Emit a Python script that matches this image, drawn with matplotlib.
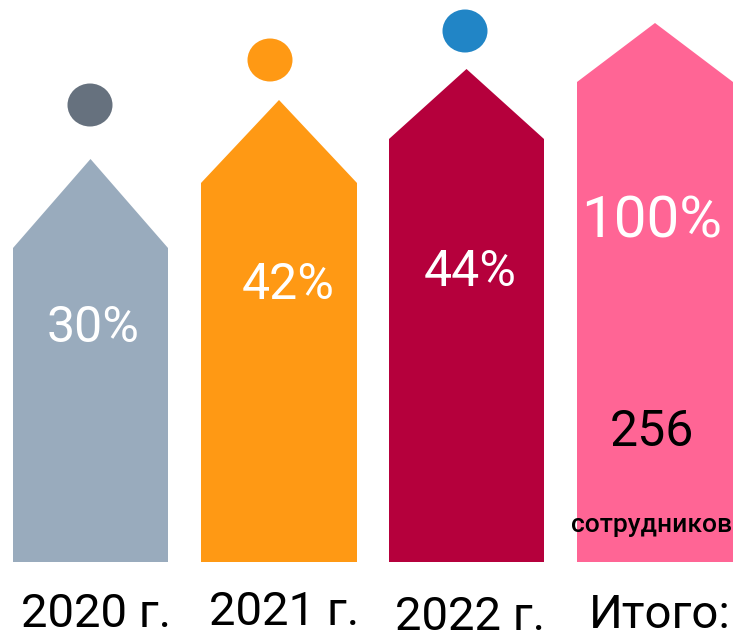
import matplotlib.pyplot as plt
from matplotlib.patches import Polygon, Ellipse

plt.rcParams['font.family'] = ['Roboto', 'DejaVu Sans']

years = ['2020 г.', '2021 г.', '2022 г.', 'Итого:']
percents = [30, 42, 44, 100]
total_staff = 256
colors = ['#99abbd', '#ff9914', '#b5003c', '#ff6595']
dot_colors = ['#66717e', '#ff9914', '#2185c6', None]

# shape geometry in pixels (left, right, shoulder y, apex y)
lefts = [13, 201, 389, 577]
rights = [168, 357, 544, 733]
shoulders = [248, 183, 139, 82]
apexes = [159, 100, 69, 23]
bottom = 562
dots = [(90, 105), (270, 60), (465, 31), None]
pct_pos = [(93, 328), (288, 285), (470, 272), (652, 222)]
pct_size = [36, 36, 36, 42]
year_pos = [(96, 614), (284, 612), (470, 617), (660, 615)]

fig = plt.figure(figsize=(7.43, 6.39), dpi=100)
ax = fig.add_axes([0, 0, 1, 1])
ax.set_xlim(0, 743)
ax.set_ylim(639, 0)
ax.axis('off')

for i in range(4):
    l, r = lefts[i], rights[i]
    cx = (l + r) / 2
    pts = [(l, bottom), (l, shoulders[i]), (cx, apexes[i]),
           (r, shoulders[i]), (r, bottom)]
    ax.add_patch(Polygon(pts, closed=True, color=colors[i], lw=0))
    if dots[i] is not None:
        ax.add_patch(Ellipse(dots[i], 45, 43, color=dot_colors[i], lw=0))
    ax.text(pct_pos[i][0], pct_pos[i][1], f'{percents[i]}%', color='white',
            fontsize=pct_size[i], ha='center', va='center')
    ax.text(year_pos[i][0], year_pos[i][1], years[i], color='black',
            fontsize=34, ha='center', va='center')

ax.text(652, 432, str(total_staff), color='black', fontsize=36,
        ha='center', va='center')
ax.text(652, 525, 'сотрудников', color='black', fontsize=19,
        fontweight='medium', ha='center', va='center')

fig.savefig('out.png', dpi=100)
